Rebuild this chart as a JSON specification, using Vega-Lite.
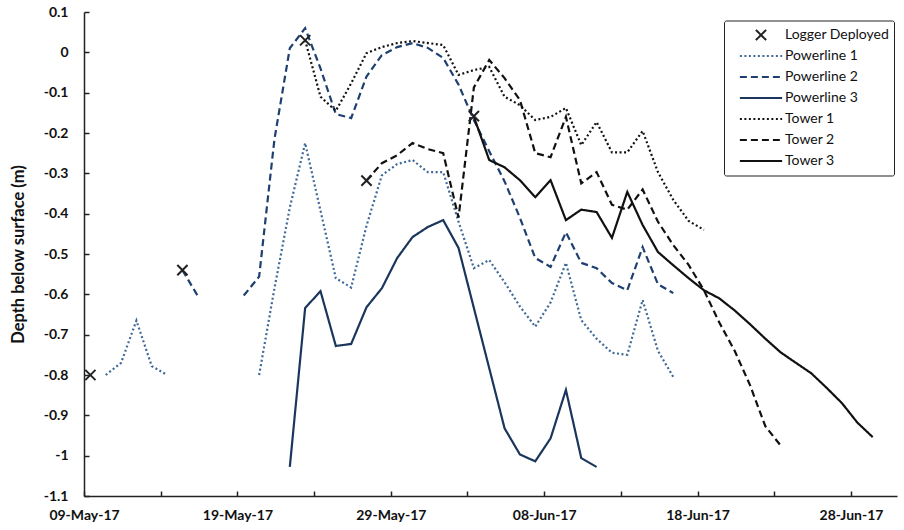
{
  "$schema": "https://vega.github.io/schema/vega-lite/v6.json",
  "width": 813,
  "height": 484,
  "autosize": {"type": "none"},
  "padding": {"left": 84, "top": 12, "right": 7, "bottom": 34},
  "background": "white",
  "config": {
    "view": {"stroke": null},
    "font": "Lato"
  },
  "datasets": {
    "lines": [
      {"series": "Powerline 1", "seg": "a", "date": "2017-05-10T10:00:00", "depth": -0.80},
      {"series": "Powerline 1", "seg": "a", "date": "2017-05-11T10:00:00", "depth": -0.77},
      {"series": "Powerline 1", "seg": "a", "date": "2017-05-12T10:00:00", "depth": -0.665},
      {"series": "Powerline 1", "seg": "a", "date": "2017-05-13T10:00:00", "depth": -0.778},
      {"series": "Powerline 1", "seg": "a", "date": "2017-05-14T10:00:00", "depth": -0.80},
      {"series": "Powerline 1", "seg": "b", "date": "2017-05-20T10:00:00", "depth": -0.80},
      {"series": "Powerline 1", "seg": "b", "date": "2017-05-21T10:00:00", "depth": -0.585},
      {"series": "Powerline 1", "seg": "b", "date": "2017-05-22T10:00:00", "depth": -0.385},
      {"series": "Powerline 1", "seg": "b", "date": "2017-05-23T10:00:00", "depth": -0.225},
      {"series": "Powerline 1", "seg": "b", "date": "2017-05-25T10:00:00", "depth": -0.56},
      {"series": "Powerline 1", "seg": "b", "date": "2017-05-26T10:00:00", "depth": -0.583},
      {"series": "Powerline 1", "seg": "b", "date": "2017-05-27T10:00:00", "depth": -0.43},
      {"series": "Powerline 1", "seg": "b", "date": "2017-05-28T10:00:00", "depth": -0.305},
      {"series": "Powerline 1", "seg": "b", "date": "2017-05-29T10:00:00", "depth": -0.277},
      {"series": "Powerline 1", "seg": "b", "date": "2017-05-30T10:00:00", "depth": -0.267},
      {"series": "Powerline 1", "seg": "b", "date": "2017-05-31T10:00:00", "depth": -0.297},
      {"series": "Powerline 1", "seg": "b", "date": "2017-06-01T10:00:00", "depth": -0.297},
      {"series": "Powerline 1", "seg": "b", "date": "2017-06-02T10:00:00", "depth": -0.42},
      {"series": "Powerline 1", "seg": "b", "date": "2017-06-03T10:00:00", "depth": -0.535},
      {"series": "Powerline 1", "seg": "b", "date": "2017-06-04T10:00:00", "depth": -0.515},
      {"series": "Powerline 1", "seg": "b", "date": "2017-06-05T10:00:00", "depth": -0.57},
      {"series": "Powerline 1", "seg": "b", "date": "2017-06-06T10:00:00", "depth": -0.63},
      {"series": "Powerline 1", "seg": "b", "date": "2017-06-07T10:00:00", "depth": -0.68},
      {"series": "Powerline 1", "seg": "b", "date": "2017-06-08T10:00:00", "depth": -0.62},
      {"series": "Powerline 1", "seg": "b", "date": "2017-06-09T10:00:00", "depth": -0.522},
      {"series": "Powerline 1", "seg": "b", "date": "2017-06-10T10:00:00", "depth": -0.664},
      {"series": "Powerline 1", "seg": "b", "date": "2017-06-11T10:00:00", "depth": -0.71},
      {"series": "Powerline 1", "seg": "b", "date": "2017-06-12T10:00:00", "depth": -0.745},
      {"series": "Powerline 1", "seg": "b", "date": "2017-06-13T10:00:00", "depth": -0.75},
      {"series": "Powerline 1", "seg": "b", "date": "2017-06-14T10:00:00", "depth": -0.614},
      {"series": "Powerline 1", "seg": "b", "date": "2017-06-15T10:00:00", "depth": -0.74},
      {"series": "Powerline 1", "seg": "b", "date": "2017-06-16T10:00:00", "depth": -0.805},

      {"series": "Powerline 2", "seg": "a", "date": "2017-05-15T10:00:00", "depth": -0.54},
      {"series": "Powerline 2", "seg": "a", "date": "2017-05-16T10:00:00", "depth": -0.604},
      {"series": "Powerline 2", "seg": "b", "date": "2017-05-19T10:00:00", "depth": -0.603},
      {"series": "Powerline 2", "seg": "b", "date": "2017-05-20T10:00:00", "depth": -0.556},
      {"series": "Powerline 2", "seg": "b", "date": "2017-05-21T10:00:00", "depth": -0.215},
      {"series": "Powerline 2", "seg": "b", "date": "2017-05-22T10:00:00", "depth": 0.01},
      {"series": "Powerline 2", "seg": "b", "date": "2017-05-23T10:00:00", "depth": 0.06},
      {"series": "Powerline 2", "seg": "b", "date": "2017-05-24T10:00:00", "depth": -0.04},
      {"series": "Powerline 2", "seg": "b", "date": "2017-05-25T10:00:00", "depth": -0.153},
      {"series": "Powerline 2", "seg": "b", "date": "2017-05-26T10:00:00", "depth": -0.163},
      {"series": "Powerline 2", "seg": "b", "date": "2017-05-27T10:00:00", "depth": -0.06},
      {"series": "Powerline 2", "seg": "b", "date": "2017-05-28T10:00:00", "depth": -0.007},
      {"series": "Powerline 2", "seg": "b", "date": "2017-05-29T10:00:00", "depth": 0.013},
      {"series": "Powerline 2", "seg": "b", "date": "2017-05-30T10:00:00", "depth": 0.023},
      {"series": "Powerline 2", "seg": "b", "date": "2017-05-31T10:00:00", "depth": 0.011},
      {"series": "Powerline 2", "seg": "b", "date": "2017-06-01T10:00:00", "depth": -0.014},
      {"series": "Powerline 2", "seg": "b", "date": "2017-06-02T10:00:00", "depth": -0.08},
      {"series": "Powerline 2", "seg": "b", "date": "2017-06-03T10:00:00", "depth": -0.168},
      {"series": "Powerline 2", "seg": "b", "date": "2017-06-04T10:00:00", "depth": -0.245},
      {"series": "Powerline 2", "seg": "b", "date": "2017-06-05T10:00:00", "depth": -0.32},
      {"series": "Powerline 2", "seg": "b", "date": "2017-06-06T10:00:00", "depth": -0.41},
      {"series": "Powerline 2", "seg": "b", "date": "2017-06-07T10:00:00", "depth": -0.51},
      {"series": "Powerline 2", "seg": "b", "date": "2017-06-08T10:00:00", "depth": -0.532},
      {"series": "Powerline 2", "seg": "b", "date": "2017-06-09T10:00:00", "depth": -0.446},
      {"series": "Powerline 2", "seg": "b", "date": "2017-06-10T10:00:00", "depth": -0.522},
      {"series": "Powerline 2", "seg": "b", "date": "2017-06-11T10:00:00", "depth": -0.535},
      {"series": "Powerline 2", "seg": "b", "date": "2017-06-12T10:00:00", "depth": -0.572},
      {"series": "Powerline 2", "seg": "b", "date": "2017-06-13T10:00:00", "depth": -0.59},
      {"series": "Powerline 2", "seg": "b", "date": "2017-06-14T10:00:00", "depth": -0.483},
      {"series": "Powerline 2", "seg": "b", "date": "2017-06-15T10:00:00", "depth": -0.575},
      {"series": "Powerline 2", "seg": "b", "date": "2017-06-16T10:00:00", "depth": -0.597},

      {"series": "Powerline 3", "seg": "a", "date": "2017-05-22T10:00:00", "depth": -1.028},
      {"series": "Powerline 3", "seg": "a", "date": "2017-05-23T10:00:00", "depth": -0.634},
      {"series": "Powerline 3", "seg": "a", "date": "2017-05-24T10:00:00", "depth": -0.592},
      {"series": "Powerline 3", "seg": "a", "date": "2017-05-25T10:00:00", "depth": -0.728},
      {"series": "Powerline 3", "seg": "a", "date": "2017-05-26T10:00:00", "depth": -0.723},
      {"series": "Powerline 3", "seg": "a", "date": "2017-05-27T10:00:00", "depth": -0.632},
      {"series": "Powerline 3", "seg": "a", "date": "2017-05-28T10:00:00", "depth": -0.585},
      {"series": "Powerline 3", "seg": "a", "date": "2017-05-29T10:00:00", "depth": -0.51},
      {"series": "Powerline 3", "seg": "a", "date": "2017-05-30T10:00:00", "depth": -0.458},
      {"series": "Powerline 3", "seg": "a", "date": "2017-05-31T10:00:00", "depth": -0.433},
      {"series": "Powerline 3", "seg": "a", "date": "2017-06-01T10:00:00", "depth": -0.416},
      {"series": "Powerline 3", "seg": "a", "date": "2017-06-02T10:00:00", "depth": -0.485},
      {"series": "Powerline 3", "seg": "a", "date": "2017-06-05T10:00:00", "depth": -0.932},
      {"series": "Powerline 3", "seg": "a", "date": "2017-06-06T10:00:00", "depth": -0.997},
      {"series": "Powerline 3", "seg": "a", "date": "2017-06-07T10:00:00", "depth": -1.014},
      {"series": "Powerline 3", "seg": "a", "date": "2017-06-08T10:00:00", "depth": -0.957},
      {"series": "Powerline 3", "seg": "a", "date": "2017-06-09T10:00:00", "depth": -0.837},
      {"series": "Powerline 3", "seg": "a", "date": "2017-06-10T10:00:00", "depth": -1.006},
      {"series": "Powerline 3", "seg": "a", "date": "2017-06-11T10:00:00", "depth": -1.028},

      {"series": "Tower 1", "seg": "a", "date": "2017-05-23T10:00:00", "depth": 0.03},
      {"series": "Tower 1", "seg": "a", "date": "2017-05-24T10:00:00", "depth": -0.11},
      {"series": "Tower 1", "seg": "a", "date": "2017-05-25T10:00:00", "depth": -0.145},
      {"series": "Tower 1", "seg": "a", "date": "2017-05-26T10:00:00", "depth": -0.077},
      {"series": "Tower 1", "seg": "a", "date": "2017-05-27T10:00:00", "depth": -0.002},
      {"series": "Tower 1", "seg": "a", "date": "2017-05-28T10:00:00", "depth": 0.013},
      {"series": "Tower 1", "seg": "a", "date": "2017-05-29T10:00:00", "depth": 0.023},
      {"series": "Tower 1", "seg": "a", "date": "2017-05-30T10:00:00", "depth": 0.028},
      {"series": "Tower 1", "seg": "a", "date": "2017-05-31T10:00:00", "depth": 0.023},
      {"series": "Tower 1", "seg": "a", "date": "2017-06-01T10:00:00", "depth": 0.018},
      {"series": "Tower 1", "seg": "a", "date": "2017-06-02T10:00:00", "depth": -0.056},
      {"series": "Tower 1", "seg": "a", "date": "2017-06-03T10:00:00", "depth": -0.044},
      {"series": "Tower 1", "seg": "a", "date": "2017-06-04T10:00:00", "depth": -0.036},
      {"series": "Tower 1", "seg": "a", "date": "2017-06-05T10:00:00", "depth": -0.11},
      {"series": "Tower 1", "seg": "a", "date": "2017-06-06T10:00:00", "depth": -0.131},
      {"series": "Tower 1", "seg": "a", "date": "2017-06-07T10:00:00", "depth": -0.168},
      {"series": "Tower 1", "seg": "a", "date": "2017-06-08T10:00:00", "depth": -0.16},
      {"series": "Tower 1", "seg": "a", "date": "2017-06-09T10:00:00", "depth": -0.138},
      {"series": "Tower 1", "seg": "a", "date": "2017-06-10T10:00:00", "depth": -0.23},
      {"series": "Tower 1", "seg": "a", "date": "2017-06-11T10:00:00", "depth": -0.173},
      {"series": "Tower 1", "seg": "a", "date": "2017-06-12T10:00:00", "depth": -0.248},
      {"series": "Tower 1", "seg": "a", "date": "2017-06-13T10:00:00", "depth": -0.248},
      {"series": "Tower 1", "seg": "a", "date": "2017-06-14T10:00:00", "depth": -0.195},
      {"series": "Tower 1", "seg": "a", "date": "2017-06-15T10:00:00", "depth": -0.297},
      {"series": "Tower 1", "seg": "a", "date": "2017-06-16T10:00:00", "depth": -0.366},
      {"series": "Tower 1", "seg": "a", "date": "2017-06-17T10:00:00", "depth": -0.418},
      {"series": "Tower 1", "seg": "a", "date": "2017-06-18T10:00:00", "depth": -0.44},

      {"series": "Tower 2", "seg": "a", "date": "2017-05-27T10:00:00", "depth": -0.318},
      {"series": "Tower 2", "seg": "a", "date": "2017-05-28T10:00:00", "depth": -0.275},
      {"series": "Tower 2", "seg": "a", "date": "2017-05-29T10:00:00", "depth": -0.255},
      {"series": "Tower 2", "seg": "a", "date": "2017-05-30T10:00:00", "depth": -0.225},
      {"series": "Tower 2", "seg": "a", "date": "2017-05-31T10:00:00", "depth": -0.24},
      {"series": "Tower 2", "seg": "a", "date": "2017-06-01T10:00:00", "depth": -0.25},
      {"series": "Tower 2", "seg": "a", "date": "2017-06-02T10:00:00", "depth": -0.41},
      {"series": "Tower 2", "seg": "a", "date": "2017-06-03T10:00:00", "depth": -0.087},
      {"series": "Tower 2", "seg": "a", "date": "2017-06-04T10:00:00", "depth": -0.019},
      {"series": "Tower 2", "seg": "a", "date": "2017-06-05T10:00:00", "depth": -0.064},
      {"series": "Tower 2", "seg": "a", "date": "2017-06-06T10:00:00", "depth": -0.118},
      {"series": "Tower 2", "seg": "a", "date": "2017-06-07T10:00:00", "depth": -0.25},
      {"series": "Tower 2", "seg": "a", "date": "2017-06-08T10:00:00", "depth": -0.26},
      {"series": "Tower 2", "seg": "a", "date": "2017-06-09T10:00:00", "depth": -0.16},
      {"series": "Tower 2", "seg": "a", "date": "2017-06-10T10:00:00", "depth": -0.325},
      {"series": "Tower 2", "seg": "a", "date": "2017-06-11T10:00:00", "depth": -0.297},
      {"series": "Tower 2", "seg": "a", "date": "2017-06-12T10:00:00", "depth": -0.378},
      {"series": "Tower 2", "seg": "a", "date": "2017-06-13T10:00:00", "depth": -0.39},
      {"series": "Tower 2", "seg": "a", "date": "2017-06-14T10:00:00", "depth": -0.34},
      {"series": "Tower 2", "seg": "a", "date": "2017-06-15T10:00:00", "depth": -0.42},
      {"series": "Tower 2", "seg": "a", "date": "2017-06-16T10:00:00", "depth": -0.478},
      {"series": "Tower 2", "seg": "a", "date": "2017-06-17T10:00:00", "depth": -0.527},
      {"series": "Tower 2", "seg": "a", "date": "2017-06-18T10:00:00", "depth": -0.59},
      {"series": "Tower 2", "seg": "a", "date": "2017-06-19T10:00:00", "depth": -0.67},
      {"series": "Tower 2", "seg": "a", "date": "2017-06-20T10:00:00", "depth": -0.74},
      {"series": "Tower 2", "seg": "a", "date": "2017-06-21T10:00:00", "depth": -0.825},
      {"series": "Tower 2", "seg": "a", "date": "2017-06-22T10:00:00", "depth": -0.927},
      {"series": "Tower 2", "seg": "a", "date": "2017-06-23T10:00:00", "depth": -0.975},

      {"series": "Tower 3", "seg": "a", "date": "2017-06-03T10:00:00", "depth": -0.16},
      {"series": "Tower 3", "seg": "a", "date": "2017-06-04T10:00:00", "depth": -0.267},
      {"series": "Tower 3", "seg": "a", "date": "2017-06-05T10:00:00", "depth": -0.285},
      {"series": "Tower 3", "seg": "a", "date": "2017-06-06T10:00:00", "depth": -0.317},
      {"series": "Tower 3", "seg": "a", "date": "2017-06-07T10:00:00", "depth": -0.359},
      {"series": "Tower 3", "seg": "a", "date": "2017-06-08T10:00:00", "depth": -0.317},
      {"series": "Tower 3", "seg": "a", "date": "2017-06-09T10:00:00", "depth": -0.416},
      {"series": "Tower 3", "seg": "a", "date": "2017-06-10T10:00:00", "depth": -0.39},
      {"series": "Tower 3", "seg": "a", "date": "2017-06-11T10:00:00", "depth": -0.396},
      {"series": "Tower 3", "seg": "a", "date": "2017-06-12T10:00:00", "depth": -0.46},
      {"series": "Tower 3", "seg": "a", "date": "2017-06-13T10:00:00", "depth": -0.346},
      {"series": "Tower 3", "seg": "a", "date": "2017-06-14T10:00:00", "depth": -0.428},
      {"series": "Tower 3", "seg": "a", "date": "2017-06-15T10:00:00", "depth": -0.495},
      {"series": "Tower 3", "seg": "a", "date": "2017-06-16T10:00:00", "depth": -0.528},
      {"series": "Tower 3", "seg": "a", "date": "2017-06-17T10:00:00", "depth": -0.56},
      {"series": "Tower 3", "seg": "a", "date": "2017-06-18T10:00:00", "depth": -0.59},
      {"series": "Tower 3", "seg": "a", "date": "2017-06-19T10:00:00", "depth": -0.61},
      {"series": "Tower 3", "seg": "a", "date": "2017-06-20T10:00:00", "depth": -0.64},
      {"series": "Tower 3", "seg": "a", "date": "2017-06-21T10:00:00", "depth": -0.674},
      {"series": "Tower 3", "seg": "a", "date": "2017-06-22T10:00:00", "depth": -0.71},
      {"series": "Tower 3", "seg": "a", "date": "2017-06-23T10:00:00", "depth": -0.744},
      {"series": "Tower 3", "seg": "a", "date": "2017-06-24T10:00:00", "depth": -0.77},
      {"series": "Tower 3", "seg": "a", "date": "2017-06-25T10:00:00", "depth": -0.796},
      {"series": "Tower 3", "seg": "a", "date": "2017-06-26T10:00:00", "depth": -0.832},
      {"series": "Tower 3", "seg": "a", "date": "2017-06-27T10:00:00", "depth": -0.87},
      {"series": "Tower 3", "seg": "a", "date": "2017-06-28T10:00:00", "depth": -0.918},
      {"series": "Tower 3", "seg": "a", "date": "2017-06-29T10:00:00", "depth": -0.954}
    ],
    "loggers": [
      {"series": "Logger Deployed", "date": "2017-05-09T10:00:00", "depth": -0.80},
      {"series": "Logger Deployed", "date": "2017-05-15T10:00:00", "depth": -0.54},
      {"series": "Logger Deployed", "date": "2017-05-23T10:00:00", "depth": 0.03},
      {"series": "Logger Deployed", "date": "2017-05-27T10:00:00", "depth": -0.318},
      {"series": "Logger Deployed", "date": "2017-06-03T10:00:00", "depth": -0.158}
    ]
  },
  "layer": [
    {
      "data": {"name": "lines"},
      "mark": {"type": "line", "strokeWidth": 2.2, "strokeCap": "butt"},
      "encoding": {
        "x": {
          "field": "date", "type": "temporal",
          "scale": {"domain": [{"year": 2017, "month": 5, "date": 9}, {"year": 2017, "month": 7, "date": 1}], "nice": false},
          "axis": {
            "title": null,
            "grid": false,
            "values": [
              {"year": 2017, "month": 5, "date": 9}, {"year": 2017, "month": 5, "date": 14},
              {"year": 2017, "month": 5, "date": 19}, {"year": 2017, "month": 5, "date": 24},
              {"year": 2017, "month": 5, "date": 29}, {"year": 2017, "month": 6, "date": 3},
              {"year": 2017, "month": 6, "date": 8}, {"year": 2017, "month": 6, "date": 13},
              {"year": 2017, "month": 6, "date": 18}, {"year": 2017, "month": 6, "date": 23},
              {"year": 2017, "month": 6, "date": 28}
            ],
            "labelExpr": "date(datum.value) % 10 >= 8 ? timeFormat(datum.value, '%d-%b-%y') : ''",
            "labelFlush": false,
            "labelOverlap": false,
            "labelFont": "Lato",
            "labelFontSize": 14,
            "labelFontWeight": "bold",
            "labelColor": "#111111",
            "labelPadding": 17,
            "domainColor": "#222222",
            "domainWidth": 1.5,
            "tickColor": "#222222",
            "tickWidth": 1.5,
            "tickSize": -5
          }
        },
        "y": {
          "field": "depth", "type": "quantitative",
          "scale": {"domain": [-1.1, 0.1], "nice": false, "zero": false},
          "axis": {
            "title": "Depth below surface (m)",
            "titleFont": "Lato",
            "titleFontSize": 16.5,
            "titleFontWeight": "bold",
            "titleColor": "#111111",
            "titleX": -66,
            "titleBaseline": "middle",
            "grid": false,
            "values": [0.1, 0, -0.1, -0.2, -0.3, -0.4, -0.5, -0.6, -0.7, -0.8, -0.9, -1, -1.1],
            "labelExpr": "datum.value < 0 ? '-' + format(-datum.value, '.1~f') : format(datum.value, '.1~f')",
            "labelFont": "Lato",
            "labelFontSize": 14,
            "labelFontWeight": "bold",
            "labelColor": "#111111",
            "labelPadding": 21,
            "domainColor": "#222222",
            "domainWidth": 1.5,
            "tickColor": "#222222",
            "tickWidth": 1.5,
            "tickSize": -5
          }
        },
        "color": {
          "field": "series", "type": "nominal",
          "scale": {
            "domain": ["Logger Deployed", "Powerline 1", "Powerline 2", "Powerline 3", "Tower 1", "Tower 2", "Tower 3"],
            "range": ["#222222", "#3f6897", "#1e3f6f", "#1b365d", "#111111", "#111111", "#111111"]
          },
          "legend": {
            "title": null,
            "orient": "none",
            "legendX": 640,
            "legendY": 8.5,
            "padding": 4,
            "strokeColor": "#222222",
            "cornerRadius": 2,
            "fillColor": "white",
            "symbolSize": 4096,
            "symbolStrokeWidth": 2,
            "clipHeight": 21,
            "rowPadding": 0,
            "labelOffset": -9,
            "labelFont": "Lato",
            "labelFontSize": 14,
            "labelColor": "#111111"
          }
        },
        "strokeDash": {
          "field": "series", "type": "nominal",
          "scale": {
            "domain": ["Logger Deployed", "Powerline 1", "Powerline 2", "Powerline 3", "Tower 1", "Tower 2", "Tower 3"],
            "range": [[1, 0], [2, 2.5], [7, 4], [1, 0], [2, 2.5], [7, 4], [1, 0]]
          }
        },
        "detail": {"field": "seg"}
      }
    },
    {
      "data": {"name": "loggers"},
      "mark": {"type": "point", "filled": false, "opacity": 1, "strokeWidth": 2, "size": 4096},
      "encoding": {
        "x": {"field": "date", "type": "temporal"},
        "y": {"field": "depth", "type": "quantitative"},
        "color": {"field": "series", "type": "nominal"},
        "shape": {
          "field": "series", "type": "nominal",
          "scale": {
            "domain": ["Logger Deployed", "Powerline 1", "Powerline 2", "Powerline 3", "Tower 1", "Tower 2", "Tower 3"],
            "range": ["M-0.16,-0.16L0.16,0.16M0.16,-0.16L-0.16,0.16", "M-0.66,0L0.66,0", "M-0.66,0L0.66,0", "M-0.66,0L0.66,0", "M-0.66,0L0.66,0", "M-0.66,0L0.66,0", "M-0.66,0L0.66,0"]
          }
        }
      }
    },
    {
      "mark": {"type": "rule", "color": "#333333", "strokeWidth": 1.5},
      "encoding": {"y": {"datum": 0.1}}
    }
  ]
}
